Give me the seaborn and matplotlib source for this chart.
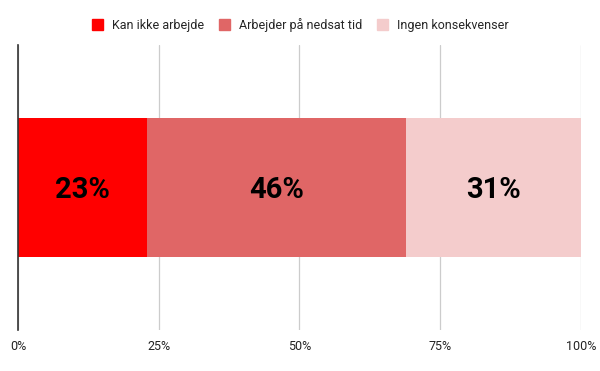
import pandas as pd
import matplotlib.pyplot as plt
import seaborn as sns
from matplotlib.patches import Patch

categories = ['Kan ikke arbejde', 'Arbejder på nedsat tid', 'Ingen konsekvenser']
values = [23, 46, 31]
colors = ['#ff0000', '#e06666', '#f4cccc']

sns.set_theme(style='white')
plt.rcParams['font.family'] = ['Roboto', 'DejaVu Sans']

df = pd.DataFrame({'kategori': categories, 'andel': values})
df['kumuleret'] = df['andel'].cumsum()
df['start'] = df['kumuleret'] - df['andel']
df['gruppe'] = ''

fig = plt.figure(figsize=(6, 3.71), dpi=100)
ax = fig.add_axes([0.03, 0.11, 0.938, 0.769])

# stablede søjler: tegn største kumulative værdi først
for i in reversed(range(len(df))):
    sns.barplot(data=df.iloc[[i]], x='kumuleret', y='gruppe', color=colors[i],
                width=0.49, saturation=1, orient='h', linewidth=0, ax=ax)

for _, r in df.iterrows():
    ax.text(r['start'] + r['andel'] / 2, 0.01, f"{r['andel']}%", ha='center', va='center',
            fontsize=21, fontweight='bold', color='black')

ax.set_xlim(0, 100)
ax.set_ylim(0.5, -0.5)
ax.set_xticks([0, 25, 50, 75, 100])
ax.set_xticklabels(['0%', '25%', '50%', '75%', '100%'], fontsize=9, color='#222222')
ax.set_yticks([])
ax.set_xlabel('')
ax.set_ylabel('')
ax.grid(axis='x', color='#cccccc', linewidth=0.9)
ax.set_axisbelow(True)
for s in ['top', 'right', 'bottom']:
    ax.spines[s].set_visible(False)
ax.spines['left'].set_color('#333333')
ax.spines['left'].set_linewidth(1.2)
ax.tick_params(axis='x', length=0, pad=7)

handles = [Patch(facecolor=c, edgecolor=c) for c in colors]
fig.legend(handles, categories, loc='center', bbox_to_anchor=(0.5, 0.933), ncol=3,
           frameon=False, fontsize=9, handlelength=0.9, handleheight=0.9,
           handletextpad=0.7, columnspacing=1.2)

fig.savefig('out.png', dpi=100)
